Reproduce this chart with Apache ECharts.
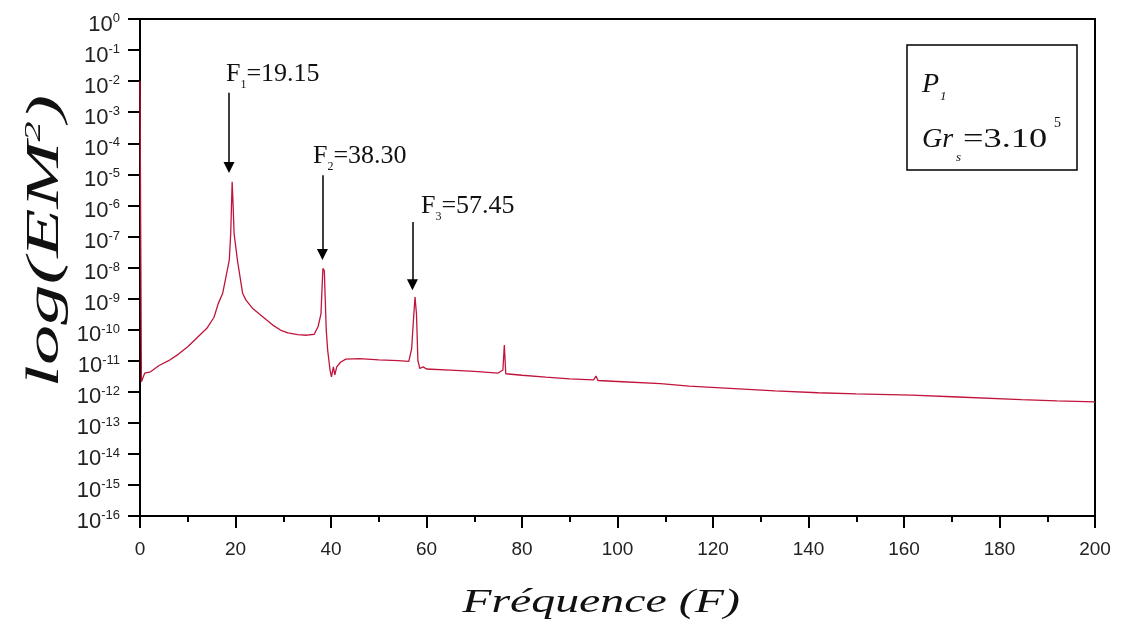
<!DOCTYPE html>
<html>
<head>
<meta charset="utf-8">
<script src="https://cdn.jsdelivr.net/npm/echarts@6/dist/echarts.min.js"></script>
<style>
html,body{margin:0;padding:0;background:#fff;}
#main{width:1123px;height:629px;}
</style>
</head>
<body>
<div id="main"></div>
<script>
// Frequency (F) sampled along the spectrum
const freq = [0, 0.3, 1.0, 2.2, 4, 6, 8, 10, 12, 14, 15.5, 16.4, 17.3, 18.0, 18.7, 19.0, 19.3, 19.5, 19.7, 20.4, 21.5, 22.2, 23.5, 25, 27.8, 29.5, 31, 33, 35, 36.5, 37.3, 37.9, 38.3, 38.6, 39.0, 39.3, 39.8, 40.1, 40.5, 40.8, 41.2, 42, 43.1, 46, 50, 54, 56.3, 56.9, 57.3, 57.6, 57.9, 58.2, 58.6, 59.3, 60, 65, 70, 75, 76.0, 76.3, 76.6, 77, 80, 85, 90, 95, 95.5, 95.9, 100, 109, 115, 124.5, 133, 142, 150, 161.6, 170, 184.6, 192, 200];
// Spectral energy log(EM^2)
const energy = [1.0e-2, 2.1e-12, 4.0e-12, 4.4e-12, 7.0e-12, 1.0e-11, 1.6e-11, 2.8e-11, 5.6e-11, 1.1e-10, 2.5e-10, 7.0e-10, 1.45e-9, 5.0e-9, 1.74e-8, 1.26e-7, 5.75e-6, 1.0e-6, 1.26e-7, 1.74e-8, 1.45e-9, 8.9e-10, 5.0e-10, 3.2e-10, 1.4e-10, 9.5e-11, 7.9e-11, 6.9e-11, 6.6e-11, 7.1e-11, 1.26e-10, 3.2e-10, 9.3e-9, 7.9e-9, 1.0e-10, 2.2e-11, 5.0e-12, 3.0e-12, 6.3e-12, 3.5e-12, 6.3e-12, 8.9e-12, 1.12e-11, 1.17e-11, 1.07e-11, 1.0e-11, 9.5e-12, 2.5e-11, 2.5e-10, 1.12e-9, 3.2e-10, 1.0e-11, 5.6e-12, 6.3e-12, 5.4e-12, 5.0e-12, 4.5e-12, 4.0e-12, 5.0e-12, 3.2e-11, 3.8e-12, 3.6e-12, 3.4e-12, 2.95e-12, 2.6e-12, 2.4e-12, 3.2e-12, 2.3e-12, 2.14e-12, 1.82e-12, 1.51e-12, 1.26e-12, 1.07e-12, 9.3e-13, 8.5e-13, 7.8e-13, 6.9e-13, 5.6e-13, 5.1e-13, 4.7e-13];

// Peak annotations
const peakNames = ['1', '2', '3'];
const peakValues = ['19.15', '38.30', '57.45'];
const arrowF = [18.64, 38.21, 57.06];
const arrowFrom = [4.2e-3, 9.3e-6, 2.9e-7];
const arrowTo = [1.65e-5, 2.6e-8, 2.8e-9];

const xMin = 0, xMax = 200, xStep = 20;
const yMin = 1e-16, yMax = 1;

const chart = echarts.init(document.getElementById('main'), null, {renderer: 'canvas'});

const seriesData = freq.map((f, i) => [f, energy[i]]);
const arrowLines = arrowF.map((f, i) => [{coord: [f, arrowFrom[i]]}, {coord: [f, arrowTo[i]]}]);

const serif = '"Liberation Serif", "Times New Roman", serif';
const sans = '"Liberation Sans", Arial, sans-serif';

const peakLabelPos = [[226, 71], [313, 153], [421, 203]];
const peakGraphics = peakNames.map((n, i) => ({
  type: 'text',
  left: peakLabelPos[i][0],
  top: peakLabelPos[i][1] - 14,
  style: {
    text: '{a|F}{s|' + n + '}{a|=' + peakValues[i] + '}',
    rich: {
      a: {fontFamily: serif, fontSize: 26, fill: '#111', lineHeight: 28},
      s: {fontFamily: serif, fontSize: 12, fill: '#111', padding: [22, 0, 0, 0], lineHeight: 12}
    }
  },
  z: 100
}));

chart.setOption({
  animation: false,
  backgroundColor: '#ffffff',
  grid: {left: 140, right: 28, top: 19, bottom: 113, show: true, borderColor: '#000', borderWidth: 2, backgroundColor: 'transparent'},
  xAxis: {
    type: 'value', min: xMin, max: xMax, interval: xStep,
    axisLine: {show: true, onZero: false, lineStyle: {color: '#000', width: 2}},
    axisTick: {show: true, inside: false, length: 12, lineStyle: {color: '#000', width: 2}},
    minorTick: {show: true, splitNumber: 2, length: 6, lineStyle: {color: '#000', width: 2}},
    splitLine: {show: false},
    axisLabel: {fontFamily: sans, fontSize: 19, color: '#222', margin: 24}
  },
  yAxis: {
    type: 'log', logBase: 10, min: yMin, max: yMax, interval: 1,
    axisLine: {show: true, onZero: false, lineStyle: {color: '#000', width: 2}},
    axisTick: {show: true, inside: false, length: 12, lineStyle: {color: '#000', width: 2}},
    splitLine: {show: false},
    minorTick: {show: false},
    axisLabel: {
      margin: 20,
      padding: [11, 0, 0, 0],
      formatter: function (v) {
        const e = Math.round(Math.log10(v));
        return '{b|10}{s|' + e + '}';
      },
      rich: {
        b: {fontFamily: sans, fontSize: 22, color: '#222'},
        s: {fontFamily: sans, fontSize: 13, color: '#222', padding: [0, 0, 12, 0]}
      }
    }
  },
  series: [{
    type: 'line',
    data: seriesData,
    showSymbol: false,
    symbol: 'none',
    lineStyle: {color: '#c0143c', width: 1.3},
    clip: true,
    markLine: {
      silent: true,
      symbol: ['none', 'triangle'],
      symbolSize: 11,
      label: {show: false},
      lineStyle: {color: '#000', width: 1.5, type: 'solid'},
      itemStyle: {color: '#000'},
      data: arrowLines
    }
  }],
  graphic: [
    ...peakGraphics,
    {
      type: 'rect',
      shape: {x: 907, y: 45, width: 170, height: 125},
      style: {fill: '#fff', stroke: '#000', lineWidth: 1.5},
      z: 100
    },
    {
      type: 'text', left: 922, top: 66,
      style: {
        text: '{a|P}{s|1}',
        rich: {
          a: {fontFamily: serif, fontStyle: 'italic', fontSize: 28, fill: '#111', lineHeight: 30},
          s: {fontFamily: serif, fontStyle: 'italic', fontSize: 13, fill: '#111', padding: [24, 0, 0, 1], lineHeight: 13}
        }
      },
      z: 101
    },
    {
      type: 'text', x: 922, y: 126,
      style: {text: 'Gr', fontFamily: serif, fontStyle: 'italic', fontSize: 28, fill: '#111', textVerticalAlign: 'top'},
      z: 101
    },
    {
      type: 'text', x: 956, y: 151,
      style: {text: 's', fontFamily: serif, fontStyle: 'italic', fontSize: 13, fill: '#111', textVerticalAlign: 'top'},
      z: 101
    },
    {
      type: 'text', x: 963, y: 126, scaleX: 1.3,
      style: {text: '=3.10', fontFamily: serif, fontSize: 28, fill: '#111', textVerticalAlign: 'top'},
      z: 101
    },
    {
      type: 'text', x: 1054, y: 116,
      style: {text: '5', fontFamily: serif, fontSize: 14, fill: '#111', textVerticalAlign: 'top'},
      z: 101
    },
    {
      type: 'text', x: 601, y: 603, scaleX: 1.45,
      style: {
        text: 'Fréquence (F)',
        fontFamily: serif, fontStyle: 'italic', fontSize: 33, fill: '#111',
        textAlign: 'center', textVerticalAlign: 'middle'
      },
      z: 100
    },
    {
      type: 'text', x: 46, y: 241, rotation: Math.PI / 2, scaleX: 1.75,
      style: {
        text: '{a|log(EM}{s|2}{a|)}',
        textAlign: 'center', textVerticalAlign: 'middle',
        rich: {
          a: {fontFamily: serif, fontStyle: 'italic', fontSize: 46, fill: '#111', lineHeight: 48},
          s: {fontFamily: serif, fontStyle: 'italic', fontSize: 23, fill: '#111', padding: [0, 0, 24, 0], lineHeight: 23}
        }
      },
      z: 100
    }
  ]
});
</script>
</body>
</html>
